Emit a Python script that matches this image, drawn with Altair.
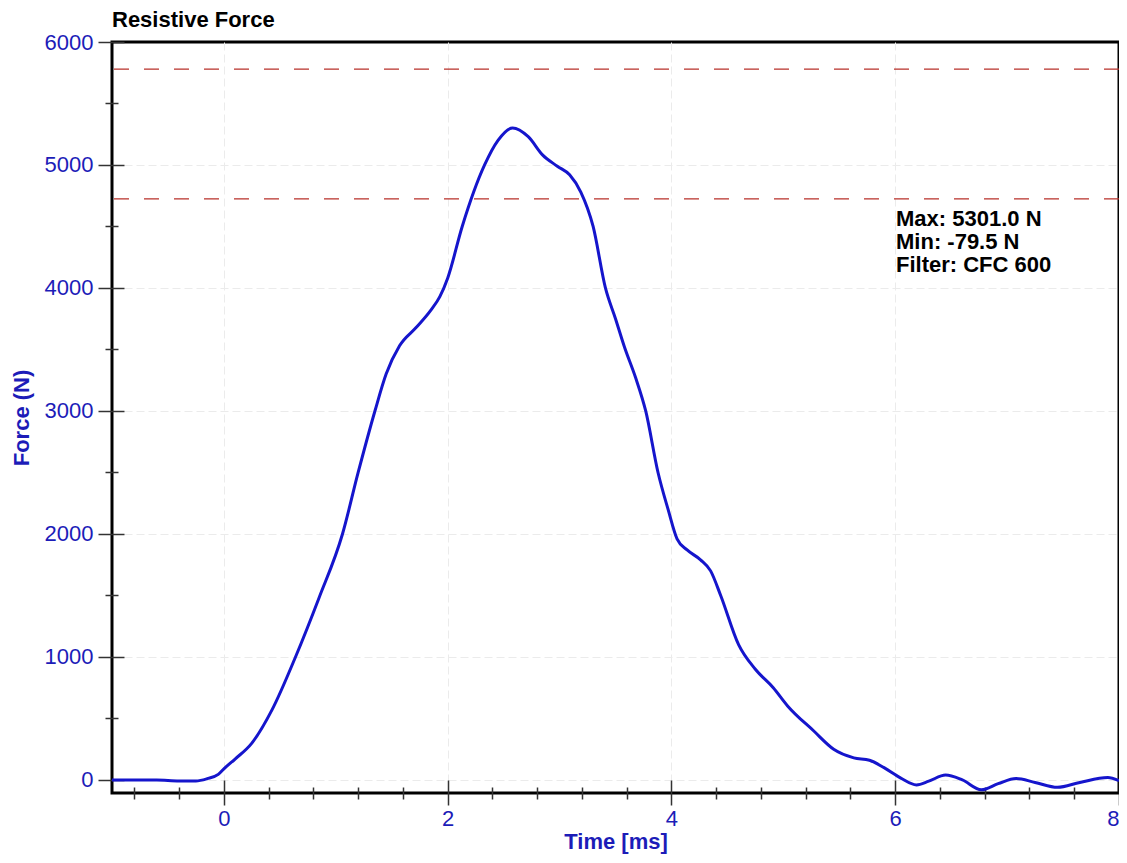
import altair as alt
import pandas as pd

# ---- data ----
time_ms = [-1.0, -0.6, -0.4, -0.25, -0.15, -0.05, 0.0, 0.1, 0.25, 0.43, 0.64, 0.85, 1.06,
           1.2, 1.35, 1.45, 1.57, 1.72, 1.85, 1.93, 2.0, 2.13, 2.33, 2.45, 2.58, 2.72,
           2.85, 2.98, 3.09, 3.19, 3.30, 3.41, 3.50, 3.58, 3.68, 3.77, 3.88, 3.97, 4.05,
           4.14, 4.26, 4.35, 4.44, 4.60, 4.75, 4.91, 5.04, 5.27, 5.45, 5.63, 5.77, 5.90,
           6.05, 6.19, 6.30, 6.45, 6.60, 6.77, 6.92, 7.08, 7.25, 7.45, 7.65, 7.90, 8.0]
force_n = [0, 0, -8, -8, 10, 45, 90, 170, 300, 570, 1000, 1480, 2000,
           2500, 3000, 3300, 3530, 3680, 3820, 3930, 4080, 4500, 5000, 5200, 5301, 5230,
           5080, 4990, 4920, 4780, 4500, 4000, 3750, 3520, 3270, 3000, 2500, 2200, 1960,
           1870, 1790, 1700, 1500, 1100, 900, 750, 600, 400, 250, 180, 160, 100,
           15, -40, -10, 40, 0, -79.5, -30, 12, -20, -60, -20, 20, -5]

limit_levels = [5780, 4724]

x_major = [0, 2, 4, 6, 8]
x_minor = [-0.8, -0.4, 0.4, 0.8, 1.2, 1.6, 2.4, 2.8, 3.2, 3.6, 4.4, 4.8, 5.2, 5.6,
           6.4, 6.8, 7.2, 7.6]
y_major = [0, 1000, 2000, 3000, 4000, 5000, 6000]
y_minor = [500, 1500, 2500, 3500, 4500, 5500]

stats_text = "Max: 5301.0 N\nMin: -79.5 N\nFilter: CFC 600"

X_DOMAIN = [-1, 8]
Y_DOMAIN = [-106, 6000]
BLUE = "#1c1cb8"
FONT = "Liberation Sans"

curve = pd.DataFrame({"t": time_ms, "f": force_n})
limits = pd.DataFrame({"level": limit_levels})
note = pd.DataFrame({"txt": [stats_text]})

xs = alt.Scale(domain=X_DOMAIN, nice=False, zero=False)
ys = alt.Scale(domain=Y_DOMAIN, nice=False, zero=False)

line = alt.Chart(curve).mark_line(color="#1515cc", strokeWidth=3, interpolate="monotone").encode(
    x=alt.X("t:Q", scale=xs, axis=alt.Axis(
        orient="bottom", values=x_major, format="d", title="Time [ms]", offset=-13,
        tickSize=25, tickColor="#333", tickWidth=1.5, domain=False, labelColor=BLUE,
        labelFont=FONT, labelFontSize=22, labelPadding=3, titleColor=BLUE, titleFont=FONT,
        titleFontSize=22, titleFontWeight="bold", titlePadding=2, grid=True,
        gridColor="#ebebeb", gridDash=[8, 4], gridWidth=1, labelFlush=True,
        gridOpacity={"condition": {"test": "datum.value >= 8", "value": 0}, "value": 1})),
    y=alt.Y("f:Q", scale=ys, axis=alt.Axis(
        orient="left", values=y_major, format="d", title="Force (N)", offset=-12,
        tickSize=26, tickColor="#333", tickWidth=1.5, domain=False, labelColor=BLUE,
        labelFont=FONT, labelFontSize=22, labelPadding=5, titleColor=BLUE, titleFont=FONT,
        titleFontSize=22, titleFontWeight="bold", titlePadding=11, grid=True,
        gridColor="#ebebeb", gridDash=[8, 4], gridWidth=1, labelFlush=False,
        gridOpacity={"condition": {"test": "datum.value >= 6000", "value": 0}, "value": 1})),
)

rules = alt.Chart(limits).mark_rule(color="#b8302a", strokeWidth=1.2, strokeDash=[15, 15]).encode(
    y=alt.Y("level:Q", scale=ys)
)

text = alt.Chart(note).mark_text(
    align="left", baseline="alphabetic", font=FONT, fontSize=22, fontWeight="bold",
    color="black", lineBreak="\n", lineHeight=23
).encode(text="txt:N", x=alt.value(784), y=alt.value(184))

main = alt.layer(rules, line, text)

minor = alt.Chart(curve).mark_point(opacity=0).encode(
    x=alt.X("t:Q", scale=xs, axis=alt.Axis(
        orient="bottom", values=x_minor, title=None, offset=-6, tickSize=12,
        tickColor="#333", tickWidth=1.5, domain=False, labels=False, grid=False)),
    y=alt.Y("f:Q", scale=ys, axis=alt.Axis(
        orient="left", values=y_minor, title=None, offset=-6, tickSize=13,
        tickColor="#333", tickWidth=1.5, domain=False, labels=False, grid=False)),
)

chart = alt.layer(main, minor).resolve_scale(x="independent", y="independent").properties(
    width=1007, height=751,
    background="white",
    autosize=alt.AutoSizeParams(type="none"),
    padding={"left": 104, "top": 34, "right": 0, "bottom": 62},
    title=alt.Title("Resistive Force", anchor="start", frame="group", font=FONT,
                    fontSize=22, fontWeight="bold", color="black", offset=-1),
).configure_view(stroke="black", strokeWidth=3)

chart.save("out.html", embed_options={"renderer": "svg", "actions": False})
